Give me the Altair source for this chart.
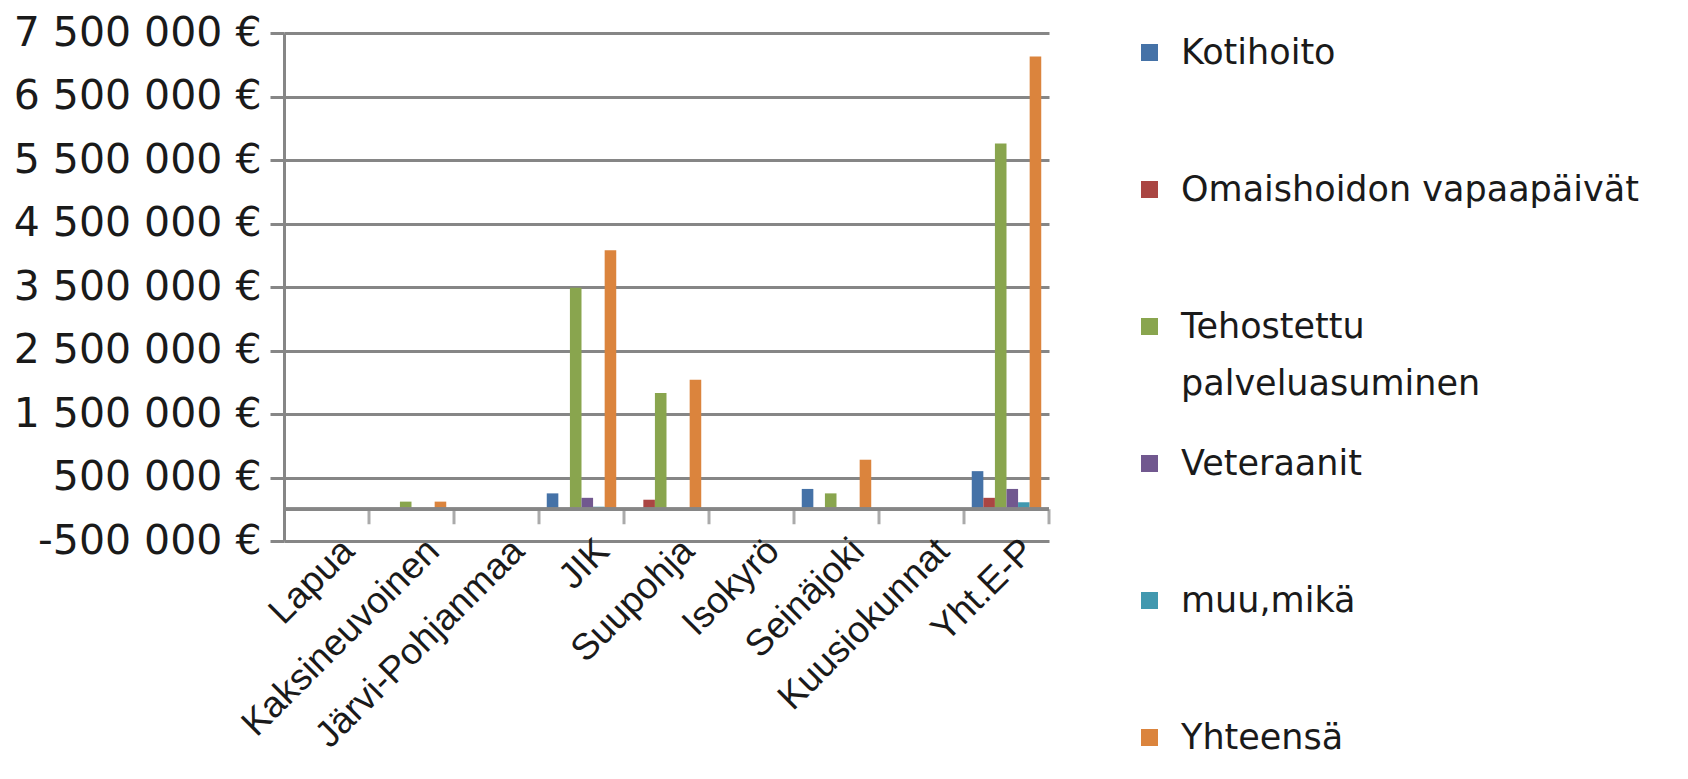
import altair as alt
import pandas as pd

categories = ["Lapua", "Kaksineuvoinen", "Järvi-Pohjanmaa", "JIK", "Suupohja",
              "Isokyrö", "Seinäjoki", "Kuusiokunnat", "Yht.E-P"]
series = ["Kotihoito", "Omaishoidon vapaapäivät", "Tehostettu palveluasuminen",
          "Veteraanit", "muu,mikä", "Yhteensä"]

kotihoito = [0, 0, 0, 250000, 0, 0, 320000, 0, 600000]
omaishoidon_vapaapaivat = [0, 0, 0, 0, 150000, 0, 0, 0, 180000]
tehostettu_palveluasuminen = [0, 120000, 0, 3490000, 1830000, 0, 250000, 0, 5760000]
veteraanit = [0, 0, 0, 180000, 0, 0, 30000, 0, 320000]
muu_mika = [0, 0, 0, 40000, 0, 0, 30000, 0, 110000]
yhteensa = [0, 120000, 0, 4080000, 2040000, 0, 780000, 0, 7130000]

colors = ["#4572A7", "#AA4643", "#89A54E", "#71588F", "#4198AF", "#DB843D"]
y_ticks = [-500000, 500000, 1500000, 2500000, 3500000, 4500000, 5500000, 6500000, 7500000]

all_values = [kotihoito, omaishoidon_vapaapaivat, tehostettu_palveluasuminen,
              veteraanit, muu_mika, yhteensa]
rows = []
for s, vals in zip(series, all_values):
    for c, v in zip(categories, vals):
        rows.append({"Alue": c, "Sarja": s, "Arvo": v})
df = pd.DataFrame(rows)

GRID = "#868686"
TXT = "#1a1a1a"

x_scale = alt.Scale(paddingInner=0, paddingOuter=0)
y_scale = alt.Scale(domain=[-500000, 7500000], nice=False)

label_expr_y = ("(datum.value < 0 ? '-' : '') + "
                "replace(replace(format(abs(datum.value), ',.0f'), ',', ' '), ',', ' ') + ' €'")

legend_expr = ("datum.label == 'Tehostettu palveluasuminen' ? ['Tehostettu', 'palveluasuminen'] : "
               "(datum.label == 'Yhteensä' ? datum.label : [datum.label, ''])")

bars = alt.Chart(df).mark_bar().encode(
    x=alt.X("Alue:N", sort=categories, scale=x_scale, title=None,
            axis=alt.Axis(labelAngle=-45, labelAlign="right", labelBaseline="middle",
                          labelFont="Liberation Sans", labelFontSize=37, labelColor=TXT,
                          labelPadding=4, labelOffset=22, labelLimit=500, ticks=False,
                          domain=False, grid=False)),
    xOffset=alt.XOffset("Sarja:N", sort=series,
                        scale=alt.Scale(paddingInner=0, paddingOuter=0.67)),
    y=alt.Y("Arvo:Q", scale=y_scale, title=None,
            axis=alt.Axis(values=y_ticks, labelExpr=label_expr_y,
                          labelFont="DejaVu Sans", labelFontSize=41, labelColor=TXT,
                          labelPadding=9, labelLimit=500,
                          grid=True, gridColor=GRID, gridWidth=3,
                          domain=True, domainColor=GRID, domainWidth=3,
                          ticks=True, tickColor=GRID, tickWidth=3, tickSize=14)),
    y2=alt.datum(0),
    color=alt.Color("Sarja:N", sort=series,
                    scale=alt.Scale(domain=series, range=colors),
                    legend=alt.Legend(title=None, orient="right", offset=81,
                                      symbolType="square", symbolSize=289,
                                      symbolStrokeWidth=0, labelFont="DejaVu Sans",
                                      labelFontSize=35, labelColor=TXT,
                                      labelOffset=14, labelLimit=700, rowPadding=44,
                                      padding=2, labelExpr=legend_expr)),
)

zero_df = pd.DataFrame({"Alue": categories})

zero_line = alt.Chart(zero_df).mark_rule(color=GRID, strokeWidth=3).encode(
    y=alt.datum(0)
)

zero_ticks = alt.Chart(zero_df).mark_tick(
    orient="vertical", size=15, thickness=3, color=GRID, yOffset=7.5
).encode(
    x=alt.X("Alue:N", sort=categories, scale=x_scale, title=None, bandPosition=1),
    y=alt.datum(0),
)

chart = alt.layer(bars, zero_line, zero_ticks).properties(
    width=765, height=508,
    padding={"top": 4, "left": 5, "right": 5, "bottom": 5},
).configure(
    view=alt.ViewConfig(stroke=None),
    style={"guide-label": {"lineHeight": 57}},
)

chart.save("out.html", embed_options={"renderer": "svg", "actions": False})
